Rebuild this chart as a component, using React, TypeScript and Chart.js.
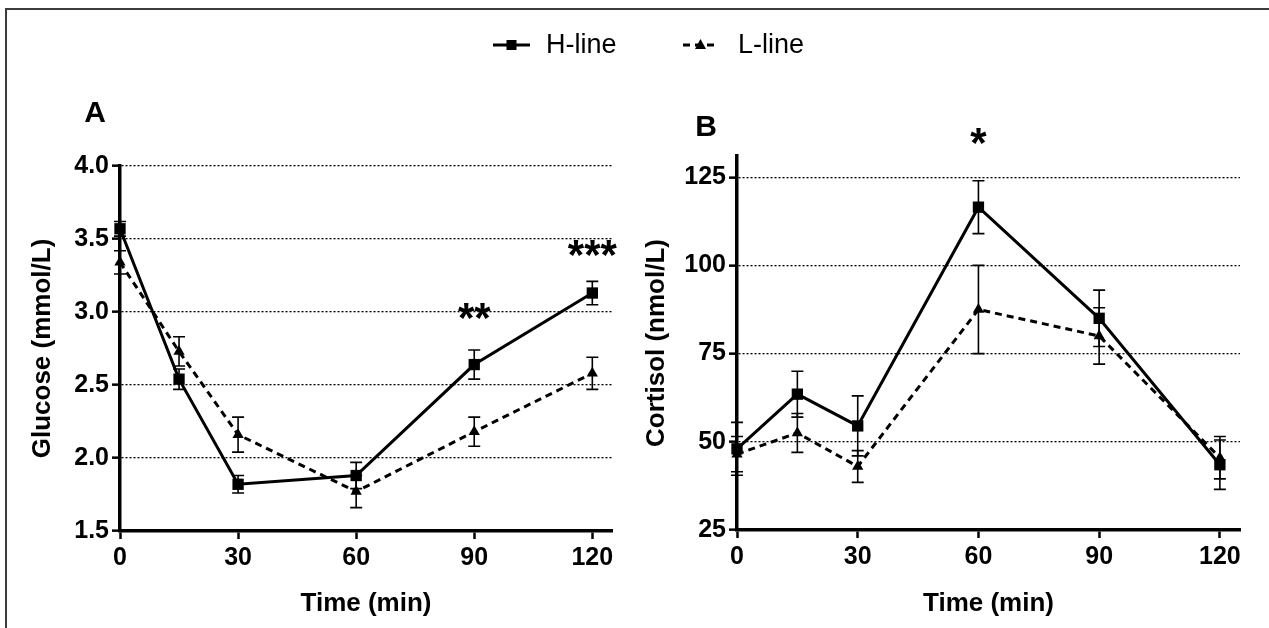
import { useEffect, useRef } from "react";
import { Chart, registerables } from "chart.js";

Chart.register(...registerables);

const W = 1269;
const H = 628;

const SANS = "'Liberation Sans', Arial, Helvetica, sans-serif";

// Sampling times (min) and the labelled ticks on the time axis
const times = [0, 15, 30, 60, 90, 120];
const timeTicks = [0, 30, 60, 90, 120];

// Panel A: plasma glucose (mmol/L), mean and SEM
const glucoseH = [3.57, 2.54, 1.82, 1.88, 2.64, 3.13];
const glucoseHErr = [0.05, 0.07, 0.06, 0.09, 0.1, 0.08];
const glucoseL = [3.34, 2.73, 2.16, 1.77, 2.18, 2.58];
const glucoseLErr = [0.08, 0.1, 0.12, 0.11, 0.1, 0.11];
const glucoseTicks = [1.5, 2.0, 2.5, 3.0, 3.5, 4.0];
const glucoseStars = [
  { time: 90, level: 3.03, label: "**" },
  { time: 120, level: 3.46, label: "***" },
];

// Panel B: plasma cortisol (nmol/L), mean and SEM
const cortisolH = [48, 63.5, 54.5, 116.5, 85, 43.5];
const cortisolHErr = [7.5, 6.5, 8.5, 7.5, 8, 7];
const cortisolL = [46.5, 52.5, 43, 87.5, 80, 45.5];
const cortisolLErr = [5, 5.5, 4.5, 12.5, 8, 6];
const cortisolTicks = [25, 50, 75, 100, 125];
const cortisolStars = [{ time: 60, level: 137.5, label: "*" }];

const seriesNames = ["H-line", "L-line"];

// Vertical SEM bars with caps, drawn over the lines
const errorBarPlugin = {
  id: "errorBars",
  afterDatasetsDraw(chart: any, _args: any, opts: any) {
    const { ctx } = chart;
    const yScale = chart.scales.y;
    ctx.save();
    ctx.strokeStyle = "#000";
    ctx.lineWidth = 1.6;
    ctx.setLineDash([]);
    (opts.errors || []).forEach((errs: number[], di: number) => {
      const meta = chart.getDatasetMeta(di);
      const ds = chart.data.datasets[di];
      meta.data.forEach((pt: any, j: number) => {
        const v = ds.data[j].y;
        const x = pt.x;
        const yTop = yScale.getPixelForValue(v + errs[j]);
        const yBot = yScale.getPixelForValue(v - errs[j]);
        ctx.beginPath();
        ctx.moveTo(x, yTop);
        ctx.lineTo(x, yBot);
        ctx.moveTo(x - 6, yTop);
        ctx.lineTo(x + 6, yTop);
        ctx.moveTo(x - 6, yBot);
        ctx.lineTo(x + 6, yBot);
        ctx.stroke();
      });
    });
    ctx.restore();
  },
};

// Panel letter, significance stars and (optionally) the shared legend
const marksPlugin = {
  id: "panelMarks",
  afterDraw(chart: any, _args: any, opts: any) {
    const { ctx } = chart;
    const xs = chart.scales.x;
    const ys = chart.scales.y;
    ctx.save();
    ctx.fillStyle = "#000";
    ctx.textAlign = "center";
    ctx.textBaseline = "middle";
    ctx.font = `bold 30px ${SANS}`;
    ctx.fillText(opts.letter, opts.letterX, opts.letterY);

    const starSize = 42;
    ctx.font = `bold ${starSize}px ${SANS}`;
    ctx.textBaseline = "alphabetic";
    for (const s of opts.stars || []) {
      const px = xs.getPixelForValue(s.time);
      const py = ys.getPixelForValue(s.level);
      ctx.fillText(s.label, px, py + 0.58 * starSize);
    }

    if (opts.legend) {
      const items = opts.legend as { x0: number; x1: number; tx: number }[];
      const ly = 45;
      items.forEach((it, i) => {
        const ds = chart.data.datasets[i];
        ctx.strokeStyle = "#000";
        ctx.lineWidth = ds.borderWidth;
        ctx.setLineDash(ds.borderDash || []);
        ctx.beginPath();
        ctx.moveTo(it.x0, ly);
        ctx.lineTo(it.x1, ly);
        ctx.stroke();
        ctx.setLineDash([]);
        const cx = (it.x0 + it.x1) / 2;
        ctx.beginPath();
        if (ds.pointStyle === "rect") {
          ctx.rect(cx - 5, ly - 5, 10, 10);
        } else {
          ctx.moveTo(cx, ly - 6);
          ctx.lineTo(cx + 5.5, ly + 4);
          ctx.lineTo(cx - 5.5, ly + 4);
          ctx.closePath();
        }
        ctx.fill();
        ctx.font = `27px ${SANS}`;
        ctx.textAlign = "left";
        ctx.textBaseline = "middle";
        ctx.fillText(ds.label, it.tx, ly + 1);
      });
    }
    ctx.restore();
  },
};

type PanelSpec = {
  high: number[];
  highErr: number[];
  low: number[];
  lowErr: number[];
  yTicks: number[];
  yMax: number;
  yTitle: string;
  decimals: number;
  pad: { left: number; right: number; top: number };
  yWidth: number;
  yTitlePad: number;
  xHeight: number;
  marks: any;
};

function makeChart(canvas: HTMLCanvasElement, p: PanelSpec) {
  const tickFont = { family: SANS, size: 25, weight: "bold" as const };
  return new Chart(canvas, {
    type: "line",
    data: {
      datasets: [
        {
          label: seriesNames[0],
          data: times.map((t, i) => ({ x: t, y: p.high[i] })),
          borderColor: "#000",
          backgroundColor: "#000",
          borderWidth: 3,
          pointStyle: "rect",
          pointRadius: 8,
          pointBorderWidth: 0,
          tension: 0,
          clip: false,
        },
        {
          label: seriesNames[1],
          data: times.map((t, i) => ({ x: t, y: p.low[i] })),
          borderColor: "#000",
          backgroundColor: "#000",
          borderWidth: 3,
          borderDash: [7, 5],
          pointStyle: "triangle",
          pointRadius: 6.5,
          pointBorderWidth: 0,
          tension: 0,
          clip: false,
        },
      ],
    },
    options: {
      animation: false,
      responsive: false,
      maintainAspectRatio: false,
      events: [],
      layout: { padding: { left: p.pad.left, right: p.pad.right, top: p.pad.top, bottom: 0 } },
      plugins: {
        legend: { display: false },
        tooltip: { enabled: false },
        errorBars: { errors: [p.highErr, p.lowErr] },
        panelMarks: p.marks,
      } as any,
      scales: {
        x: {
          type: "linear",
          min: 0,
          max: 125,
          afterBuildTicks: (s: any) => {
            s.ticks = timeTicks.map((v) => ({ value: v }));
          },
          afterFit: (s: any) => {
            s.height = p.xHeight;
          },
          grid: {
            display: true,
            drawOnChartArea: false,
            drawTicks: true,
            tickLength: 8,
            tickColor: "#000",
            tickWidth: 2.5,
          },
          border: { display: true, color: "#000", width: 3.5 },
          ticks: {
            color: "#000",
            font: tickFont,
            padding: 4,
            maxRotation: 0,
            autoSkip: false,
            callback: (v: any) => String(v),
          },
          title: {
            display: true,
            text: "Time (min)",
            color: "#000",
            font: { family: SANS, size: 26, weight: "bold" },
            padding: { top: 0, bottom: 9 },
          },
        },
        y: {
          type: "linear",
          min: p.yTicks[0],
          max: p.yMax,
          afterBuildTicks: (s: any) => {
            s.ticks = p.yTicks.map((v) => ({ value: v }));
          },
          afterFit: (s: any) => {
            s.width = p.yWidth;
          },
          grid: {
            display: true,
            drawOnChartArea: true,
            drawTicks: true,
            color: "#000",
            lineWidth: 1.3,
            tickLength: 8,
            tickColor: "#000",
            tickWidth: 2.5,
            tickBorderDash: [],
          },
          border: { display: true, color: "#000", width: 3.5, dash: [2, 2] },
          ticks: {
            color: "#000",
            font: tickFont,
            padding: 3,
            autoSkip: false,
            callback: (v: any) => Number(v).toFixed(p.decimals),
          },
          title: {
            display: true,
            text: p.yTitle,
            color: "#000",
            font: { family: SANS, size: 26, weight: "bold" },
            padding: { top: p.yTitlePad, bottom: 0 },
          },
        },
      },
    },
    plugins: [errorBarPlugin, marksPlugin],
  } as any);
}

export default function App() {
  const refA = useRef<HTMLCanvasElement>(null);
  const refB = useRef<HTMLCanvasElement>(null);

  useEffect(() => {
    const a = makeChart(refA.current!, {
      high: glucoseH,
      highErr: glucoseHErr,
      low: glucoseL,
      lowErr: glucoseLErr,
      yTicks: glucoseTicks,
      yMax: 4.0,
      yTitle: "Glucose (mmol/L)",
      decimals: 1,
      pad: { left: 0, right: W - 612, top: 166 },
      yWidth: 120,
      yTitlePad: 27,
      xHeight: 97,
      marks: {
        letter: "A",
        letterX: 95,
        letterY: 114,
        stars: glucoseStars,
        legend: [
          { x0: 493, x1: 530, tx: 546 },
          { x0: 683, x1: 718, tx: 738 },
        ],
      },
    });
    const b = makeChart(refB.current!, {
      high: cortisolH,
      highErr: cortisolHErr,
      low: cortisolL,
      lowErr: cortisolLErr,
      yTicks: cortisolTicks,
      yMax: 131,
      yTitle: "Cortisol (nmol/L)",
      decimals: 0,
      pad: { left: 620, right: W - 1240, top: 156 },
      yWidth: 117,
      yTitlePad: 21,
      xHeight: 98,
      marks: {
        letter: "B",
        letterX: 706,
        letterY: 128,
        stars: cortisolStars,
      },
    });
    return () => {
      a.destroy();
      b.destroy();
    };
  }, []);

  const canvasStyle: React.CSSProperties = { position: "absolute", left: 0, top: 0, width: W, height: H };

  return (
    <div style={{ position: "fixed", left: 0, top: 0, width: W, height: H, background: "#fff", overflow: "hidden" }}>
      <div
        style={{
          position: "absolute",
          left: 5,
          top: 8,
          right: 0,
          bottom: 0,
          borderTop: "2px solid #3c3c3c",
          borderLeft: "2px solid #3c3c3c",
        }}
      />
      <canvas ref={refA} width={W} height={H} style={canvasStyle} />
      <canvas ref={refB} width={W} height={H} style={canvasStyle} />
    </div>
  );
}
